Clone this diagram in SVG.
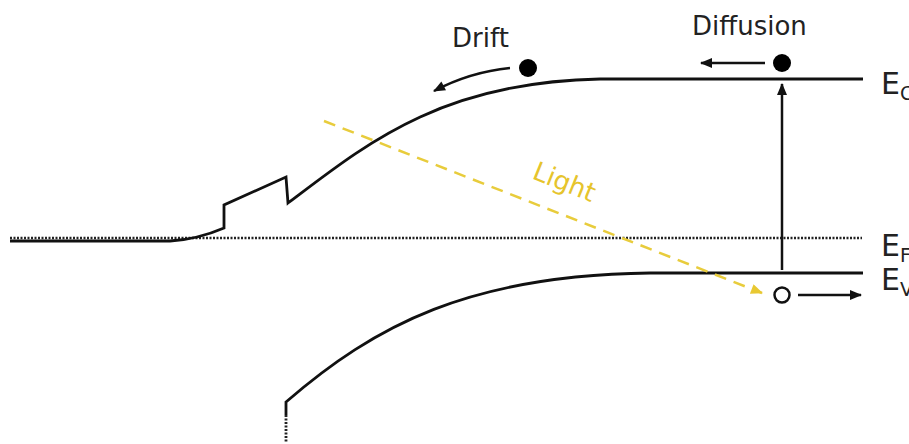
<svg xmlns="http://www.w3.org/2000/svg" width="909" height="444" viewBox="0 0 909 444">
<defs>
<style>
.band{fill:none;stroke:#111;stroke-width:2.8}
.arr{fill:none;stroke:#111;stroke-width:2.5}
.lbl{font-family:"DejaVu Sans",Verdana,sans-serif;fill:#222}
</style>
<marker id="ah" viewBox="0 0 12 10" refX="11" refY="5" markerWidth="13" markerHeight="10" markerUnits="userSpaceOnUse" orient="auto">
<path d="M0,0 L12,5 L0,10 Z" fill="#111"/>
</marker>
<marker id="ahy" viewBox="0 0 12 10" refX="11" refY="5" markerWidth="13" markerHeight="10" markerUnits="userSpaceOnUse" orient="auto">
<path d="M0,0 L12,5 L0,10 Z" fill="#e8c832"/>
</marker>
</defs>
<rect width="909" height="444" fill="#fff"/>
<g id="bands">
<path id="fermi" d="M10,238 L862,238" fill="none" stroke="#222" stroke-width="2.4" stroke-dasharray="2,1.5"/>
<path id="conduction" class="band" d="M10,241 L170,241 C190,240 210,234 224,228 L224,205 L286,177 L288,203 C365,145 440,82 600,79 L863,79"/>
<path id="valence" class="band" d="M286,415 L286,402 C375,325 470,275 650,273 L863,273"/>
<path d="M286,415 L286,442" fill="none" stroke="#222" stroke-width="2.8" stroke-dasharray="2,1.5"/>
</g>
<g id="connectors">
<path id="drift-arrow" class="arr" d="M510,68 Q470,72 434,91" marker-end="url(#ah)"/>
<path id="diffusion-arrow" class="arr" d="M765,63 L701,63" marker-end="url(#ah)"/>
<path id="excite-arrow" class="arr" d="M782,270 L782,84" marker-end="url(#ah)"/>
<path id="hole-arrow" class="arr" d="M798,295 L861,295" marker-end="url(#ah)"/>
<path id="light-ray" d="M324,121 L762,293" fill="none" stroke="#e8cc3c" stroke-width="2.5" stroke-dasharray="12,8" marker-end="url(#ahy)"/>
</g>
<g id="electron-drift"><circle cx="528" cy="68" r="9" fill="#000"/></g>
<g id="electron-diffusion"><circle cx="782" cy="63" r="9" fill="#000"/></g>
<g id="hole"><circle cx="782" cy="295" r="7.5" fill="#fff" stroke="#111" stroke-width="2.5"/></g>
<g id="labels">
<text class="lbl" x="452" y="47" font-size="26">Drift</text>
<text class="lbl" x="692" y="35" font-size="26">Diffusion</text>
<text transform="translate(531,178) rotate(22)" font-family="DejaVu Sans,Verdana,sans-serif" font-size="26" fill="#e6c42c">Light</text>
<text class="lbl" x="881" y="94" font-size="30">E<tspan font-size="19" dy="6">C</tspan></text>
<text class="lbl" x="881" y="256" font-size="30">E<tspan font-size="19" dy="6">F</tspan></text>
<text class="lbl" x="881" y="290" font-size="30">E<tspan font-size="19" dy="6">V</tspan></text>
</g>
</svg>
